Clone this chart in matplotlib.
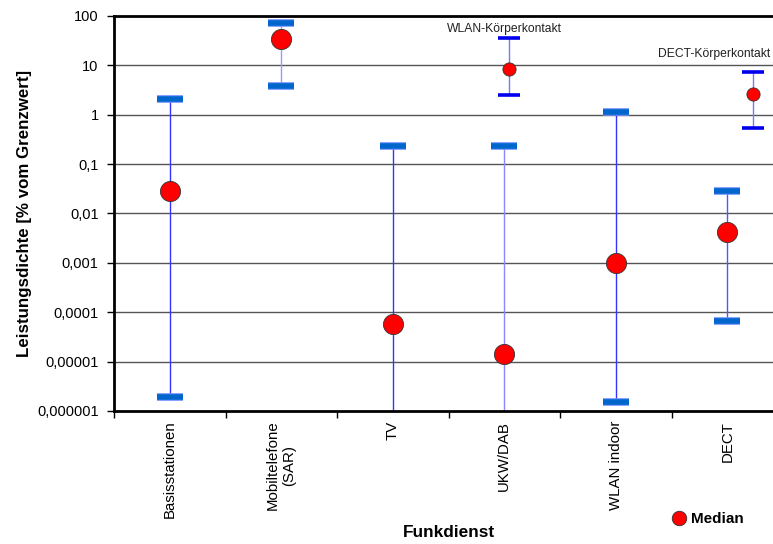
import matplotlib
import matplotlib.pyplot as plt
import matplotlib.patheffects as pe
import numpy as np

matplotlib.use("Agg")

categories = ["Basisstationen", "Mobiltelefone\n(SAR)", "TV", "UKW/DAB", "WLAN indoor", "DECT"]
medians = [0.028, 34, 5.8e-5, 1.4e-5, 0.001, 0.0042]
upper = [2.1, 71, 0.23, 0.23, 1.12, 0.028]
lower = [1.9e-6, 3.8, 1e-7, 1e-7, 1.5e-6, 6.6e-5]
has_lower_cap = [True, True, False, False, True, True]

# body contact values, drawn slightly offset from their categories
contact_labels = ["WLAN-Körperkontakt", "DECT-Körperkontakt"]
contact_x = [3.04, 5.23]
contact_label_x = [3.0, 4.88]
contact_label_y = [55, 17]
contact_median = [8.4, 2.6]
contact_upper = [35.5, 7.3]
contact_lower = [2.5, 0.54]

y_ticks = [1e-6, 1e-5, 1e-4, 1e-3, 1e-2, 1e-1, 1, 10, 100]
y_tick_labels = ["0,000001", "0,00001", "0,0001", "0,001", "0,01", "0,1", "1", "10", "100"]

whisker_colors = ["#3333ff", "#9999ff", "#3333ff", "#8888ff", "#3333ff", "#5555ff"]

plt.rcParams["font.family"] = ["Liberation Sans", "DejaVu Sans"]

fig = plt.figure(figsize=(7.73, 5.44), dpi=100)
ax = fig.add_axes([0.1475, 0.2445, 0.8525, 0.7261])
ax.set_yscale("log")

for y in y_ticks[1:-1]:
    ax.axhline(y, color="#555555", linewidth=1.0, zorder=1)

cap_fx = [pe.Stroke(linewidth=5.5, foreground="#6f8fff"), pe.Normal()]
x = np.arange(len(categories))
for i in x:
    ax.vlines(i, lower[i], upper[i], color=whisker_colors[i], linewidth=1.0, zorder=2)
    cap_vals = [upper[i], lower[i]] if has_lower_cap[i] else [upper[i]]
    for yv in cap_vals:
        ax.plot([i - 0.115, i + 0.115], [yv, yv], color="#0066cc", linewidth=4,
                solid_capstyle="butt", zorder=3, path_effects=cap_fx)
ax.plot(x, medians, "o", color="#ff0000", markeredgecolor="#333333", markeredgewidth=0.6,
        markersize=14.5, zorder=4, label="Median")

for cx, cm, cu, cl in zip(contact_x, contact_median, contact_upper, contact_lower):
    ax.vlines(cx, cl, cu, color="#7777ff", linewidth=1.0, zorder=2)
    for yv in (cu, cl):
        ax.plot([cx - 0.1, cx + 0.1], [yv, yv], color="#0000ee", linewidth=2.6,
                solid_capstyle="butt", zorder=3)
    ax.plot(cx, cm, "o", color="#ff0000", markeredgecolor="#333333", markeredgewidth=0.6,
            markersize=9.5, zorder=4)

for lx, ly, lab in zip(contact_label_x, contact_label_y, contact_labels):
    ax.text(lx, ly, lab, ha="center", va="center", fontsize=8.7, color="#222222")

ax.set_yticks(y_ticks)
ax.set_yticklabels(y_tick_labels, fontsize=10.5)
ax.minorticks_off()
ax.tick_params(axis="y", direction="out", length=5, width=1, pad=6)

ax.set_xticks(np.arange(-0.5, 5.6, 1.0))
ax.set_xticklabels([])
ax.set_xticks(x, minor=True)
ax.set_xticklabels(categories, minor=True, rotation=90, va="top", fontsize=10.8)
ax.tick_params(axis="x", which="major", direction="out", length=5, width=1)
ax.tick_params(axis="x", which="minor", length=0, pad=7)

ax.set_ylim(1e-6, 100)
ax.set_xlim(-0.5, 5.41)

for s in ("left", "bottom", "top"):
    ax.spines[s].set_linewidth(2)
ax.spines["right"].set_visible(False)

ax.set_ylabel("Leistungsdichte [% vom Grenzwert]", fontsize=12.2, fontweight="bold", labelpad=4)
fig.text(0.581, 0.008, "Funkdienst", ha="center", va="bottom", fontsize=12.4, fontweight="bold")

fig.legend(*ax.get_legend_handles_labels(), loc="center left",
           bbox_to_anchor=(672 / 773, 1 - 519 / 544), frameon=False,
           prop={"weight": "bold", "size": 11}, handlelength=0.9, handletextpad=0.35,
           borderpad=0, borderaxespad=0, markerscale=0.72)

fig.savefig("out.png", dpi=100)
